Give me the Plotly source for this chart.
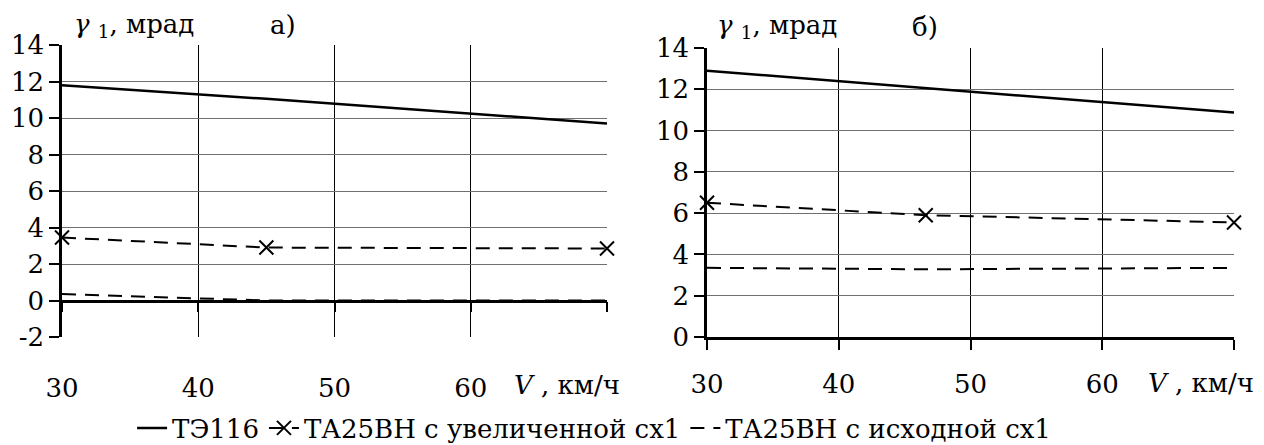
import plotly.graph_objects as go

# ---- data ----
v_a = [30, 45, 70]
te116_a = [11.8, 11.05, 9.7]
ta25_inc_a = [3.45, 2.9, 2.85]
ta25_orig_a = [0.35, 0.0, 0.0]

v_b = [30, 46.6, 70]
te116_b = [12.9, 12.06, 10.87]
ta25_inc_b = [6.5, 5.9, 5.55]
ta25_orig_b = [3.35, 3.28, 3.35]

names = ["ТЭ116", "ТА25ВН с увеличенной сх1", "ТА25ВН с исходной сх1"]
x_tickvals = [30, 40, 50, 60, 70]
x_ticktext = ["30", "40", "50", "60", ""]
y_tickvals_a = [-2, 0, 2, 4, 6, 8, 10, 12, 14]
y_ticktext_a = ["-2", "0", "2", "4", "6", "8", "10", "12", "14"]
y_tickvals_b = [0, 2, 4, 6, 8, 10, 12, 14]
y_ticktext_b = ["0", "2", "4", "6", "8", "10", "12", "14"]
y_range_a = [-2, 14]
y_range_b = [0, 14]

W, H = 1264, 445
FONT = "DejaVu Serif"
FS = 26

dash = "14px,9px"

fig = go.Figure()

def add_traces(v, s1, s2, s3, xa, ya, show):
    fig.add_trace(go.Scatter(x=v, y=s1, mode="lines", name=names[0], xaxis=xa, yaxis=ya,
                             line=dict(color="black", width=2.5), showlegend=show, cliponaxis=False))
    fig.add_trace(go.Scatter(x=v, y=s2, mode="lines+markers", name=names[1], xaxis=xa, yaxis=ya,
                             line=dict(color="black", width=2, dash=dash),
                             marker=dict(symbol="x-thin-open", size=14, color="black",
                                         line=dict(color="black", width=2)),
                             showlegend=show, cliponaxis=False))
    fig.add_trace(go.Scatter(x=v, y=s3, mode="lines", name=names[2], xaxis=xa, yaxis=ya,
                             line=dict(color="black", width=2, dash=dash), showlegend=show,
                             cliponaxis=False))

add_traces(v_a, te116_a, ta25_inc_a, ta25_orig_a, "x", "y", True)
add_traces(v_b, te116_b, ta25_inc_b, ta25_orig_b, "x2", "y2", False)

dom_xa = [62 / W, 607 / W]
dom_ya = [1 - 337 / H, 1 - 45 / H]
dom_xb = [707 / W, 1234 / W]
dom_yb = [1 - 337 / H, 1 - 48 / H]

pos_zero_a = dom_ya[0] + (0 - y_range_a[0]) / (y_range_a[1] - y_range_a[0]) * (dom_ya[1] - dom_ya[0])

tfont = dict(family=FONT, size=FS, color="black")

common_x = dict(range=[30, 70], tickvals=x_tickvals, ticktext=x_ticktext,
                showline=True, linecolor="black", linewidth=2.5,
                ticks="outside", ticklen=10, tickwidth=2, tickcolor="black",
                showgrid=True, gridcolor="black", gridwidth=1, zeroline=False,
                tickfont=tfont, automargin=False)
common_y = dict(showline=True, linecolor="black", linewidth=2.5,
                ticks="outside", ticklen=10, tickwidth=2, tickcolor="black",
                showgrid=True, gridcolor="#707070", gridwidth=1, zeroline=False,
                tickfont=tfont, automargin=False)

fig.update_layout(
    width=W, height=H,
    margin=dict(l=0, r=0, t=0, b=0, pad=0, autoexpand=False),
    paper_bgcolor="white", plot_bgcolor="white",
    font=tfont,
    xaxis=dict(domain=dom_xa, anchor="free", position=pos_zero_a, ticklabelstandoff=54, **common_x),
    yaxis=dict(domain=dom_ya, range=y_range_a, anchor="x", tickvals=y_tickvals_a,
               ticktext=y_ticktext_a, **common_y),
    xaxis2=dict(domain=dom_xb, anchor="y2", ticklabelstandoff=12, **common_x),
    yaxis2=dict(domain=dom_yb, range=y_range_b, anchor="x2", tickvals=y_tickvals_b,
                ticktext=y_ticktext_b, **common_y),
    legend=dict(orientation="h", x=0.47, xanchor="center", y=1 - 428 / H, yanchor="middle",
                font=tfont, bgcolor="rgba(0,0,0,0)", tracegroupgap=0),
    showlegend=True,
)

annotations = [
    dict(x=72 / W, y=1 - 25 / H, text="<i>γ</i> <sub>1</sub>, мрад", xanchor="left"),
    dict(x=283 / W, y=1 - 25 / H, text="а)", xanchor="center"),
    dict(x=567 / W, y=1 - 385 / H, text="<i>V</i> , км/ч", xanchor="center"),
    dict(x=715 / W, y=1 - 27 / H, text="<i>γ</i> <sub>1</sub>, мрад", xanchor="left"),
    dict(x=925 / W, y=1 - 27 / H, text="б)", xanchor="center"),
    dict(x=1201 / W, y=1 - 383 / H, text="<i>V</i> , км/ч", xanchor="center"),
]
for a in annotations:
    fig.add_annotation(xref="paper", yref="paper", yanchor="middle", showarrow=False,
                       font=tfont, **a)

fig.write_html("out.html", config={"displayModeBar": False},
               post_script="document.body.style.margin='0';")
